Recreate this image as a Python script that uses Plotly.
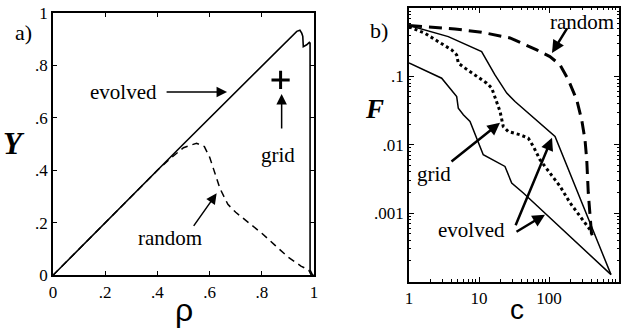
import plotly.graph_objects as go

# panel a) yield vs density
rho_evolved = [0, 0.5, 0.934, 0.946, 0.953, 0.957, 0.959, 0.972, 0.982, 0.985, 0.985, 0.995, 1.0]
y_evolved = [0, 0.5, 0.929, 0.933, 0.922, 0.91, 0.871, 0.878, 0.887, 0.884, 0.02, 0.0, 0.0]
rho_random = [0, 0.4, 0.45, 0.5, 0.55, 0.58, 0.6, 0.62, 0.64, 0.67, 0.7, 0.75, 0.8, 0.85, 0.9, 0.95, 0.98, 0.99]
y_random = [0, 0.4, 0.445, 0.486, 0.503, 0.49, 0.45, 0.39, 0.33, 0.27, 0.24, 0.2, 0.16, 0.115, 0.07, 0.035, 0.02, 0.0]
rho_grid = [0.872]
y_grid = [0.744]

# panel b) F vs c (log-log)
c_evolved_hi = [1, 3.64, 10.9, 16.9, 24.9, 32.7, 122, 769]
f_evolved_hi = [0.555, 0.381, 0.23, 0.105, 0.0569, 0.0429, 0.0132, 0.000126]
c_evolved_lo = [1, 2.93, 4.8, 5.06, 5.97, 7.44, 11.5, 23.5, 29.3, 43, 769]
f_evolved_lo = [0.157, 0.094, 0.0507, 0.0343, 0.0274, 0.0219, 0.00714, 0.00482, 0.00276, 0.00197, 0.000126]
c_grid = [1, 1.69, 2.62, 4.07, 4.8, 5.06, 6.31, 8.77, 12.9, 15.2, 17.9, 20, 22.2, 26.2, 38.5, 50.6,
          59.7, 74.3, 103, 144, 200, 277, 385, 430]
f_grid = [0.53, 0.427, 0.322, 0.244, 0.206, 0.156, 0.132, 0.105, 0.0796, 0.0673, 0.0429, 0.0306, 0.0185,
          0.0156, 0.014, 0.0125, 0.00945, 0.00604, 0.00386, 0.00246, 0.00141, 0.000898, 0.000574, 0.000435]
c_random = [1, 4.54, 10.9, 27.7, 66.7, 103, 144, 189, 249, 293, 327, 346, 364, 385, 411]
f_random = [0.555, 0.494, 0.442, 0.365, 0.244, 0.195, 0.147, 0.0889, 0.0454, 0.0232, 0.0118, 0.00604,
            0.00197, 0.000898, 0.00041]

lin_ticks = [0, 0.2, 0.4, 0.6, 0.8, 1]
lin_text = ['0', '.2', '.4', '.6', '.8', '1']
c_ticks = [1, 10, 100]
c_text = ['1', '10', '100']
f_ticks = [1, 0.1, 0.01, 0.001]
f_text = ['1', '.1', '.01', '.001']

SERIF = 'Times New Roman, Liberation Serif, DejaVu Serif, serif'
SANS = 'Arial, Liberation Sans, DejaVu Sans, sans-serif'

fig = go.Figure()
fig.add_trace(go.Scatter(x=rho_evolved, y=y_evolved, mode='lines',
                         line=dict(color='black', width=1.6), xaxis='x', yaxis='y'))
fig.add_trace(go.Scatter(x=rho_random, y=y_random, mode='lines',
                         line=dict(color='black', width=1.5, dash='7px,5px'), xaxis='x', yaxis='y'))
fig.add_trace(go.Scatter(x=rho_grid, y=y_grid, mode='markers',
                         marker=dict(symbol='cross-thin', size=13, line=dict(color='black', width=3)),
                         xaxis='x', yaxis='y'))

fig.add_trace(go.Scatter(x=c_evolved_hi, y=f_evolved_hi, mode='lines',
                         line=dict(color='black', width=1.5), xaxis='x2', yaxis='y2'))
fig.add_trace(go.Scatter(x=c_evolved_lo, y=f_evolved_lo, mode='lines',
                         line=dict(color='black', width=1.5), xaxis='x2', yaxis='y2'))
fig.add_trace(go.Scatter(x=c_grid, y=f_grid, mode='lines',
                         line=dict(color='black', width=3, dash='dot'), xaxis='x2', yaxis='y2'))
fig.add_trace(go.Scatter(x=c_random, y=f_random, mode='lines',
                         line=dict(color='black', width=3, dash='13px,7px'), xaxis='x2', yaxis='y2'))

axis_common = dict(showline=True, linecolor='black', linewidth=1.8, mirror='ticks', ticks='inside',
                   ticklen=4, tickcolor='black', showgrid=False, zeroline=False, automargin=False,
                   tickfont=dict(family=SERIF, size=17, color='black'))

minor_c = [m * 10 ** k for k in range(0, 3) for m in range(2, 10)]
minor_f = [m * 10.0 ** k for k in range(-4, 0) for m in range(2, 10)]

fig.update_layout(
    template='none',
    width=629, height=328, showlegend=False,
    margin=dict(l=0, r=0, t=0, b=0, pad=0, autoexpand=False),
    paper_bgcolor='white', plot_bgcolor='white',
    xaxis=dict(axis_common, domain=[53 / 629, 314 / 629], range=[0, 1],
               tickmode='array', tickvals=lin_ticks, ticktext=lin_text, anchor='y'),
    yaxis=dict(axis_common, domain=[1 - 275.3 / 328, 1 - 12.7 / 328], range=[0, 1],
               tickmode='array', tickvals=lin_ticks, ticktext=lin_text, anchor='x'),
    xaxis2=dict(axis_common, type='log', domain=[409 / 629, 619 / 629], range=[0, 3],
                tickmode='array', tickvals=c_ticks, ticktext=c_text, anchor='y2', ticklen=5,
                minor=dict(ticks='inside', ticklen=2.5, tickcolor='black', tickmode='array', tickvals=minor_c)),
    yaxis2=dict(axis_common, type='log', domain=[1 - 281.5 / 328, 1 - 8 / 328], range=[-4, 0],
                tickmode='array', tickvals=f_ticks, ticktext=f_text, anchor='x2', ticklen=5,
                minor=dict(ticks='inside', ticklen=2.5, tickcolor='black', tickmode='array', tickvals=minor_f)),
)

txt = dict(family=SERIF, size=21, color='black')
mid = dict(xanchor='center', yanchor='middle', showarrow=False)
ann = []
# panel a labels
ann.append(dict(mid, x=0.272, y=0.698, xref='x', yref='y', text='evolved', font=txt))
ann.append(dict(mid, x=0.862, y=0.458, xref='x', yref='y', text='grid', font=txt))
ann.append(dict(mid, x=0.448, y=0.142, xref='x', yref='y', text='random', font=txt))
arrow_a = dict(text='', showarrow=True, arrowhead=2, arrowsize=1.4, arrowwidth=1.5, arrowcolor='black',
               xref='x', yref='y')
ann.append(dict(arrow_a, x=0.667, y=0.698, ax=-62, ay=0))
ann.append(dict(arrow_a, x=0.876, y=0.69, ax=0, ay=36))
ann.append(dict(arrow_a, x=0.627, y=0.312, ax=-24, ay=34))
# panel b labels (log axes -> log10 positions)
ann.append(dict(mid, x=2.471, y=-0.204, xref='x2', yref='y2', text='random', font=txt))
ann.append(dict(mid, x=0.357, y=-2.423, xref='x2', yref='y2', text='grid', font=txt))
ann.append(dict(mid, x=0.886, y=-3.241, xref='x2', yref='y2', text='evolved', font=txt))
arrow_b = dict(text='', showarrow=True, arrowhead=2, arrowsize=1.0, arrowwidth=2.5, arrowcolor='black',
               xref='x2', yref='y2')
ann.append(dict(arrow_b, x=2.043, y=-0.657, ax=16, ay=-26))
ann.append(dict(arrow_b, x=1.3, y=-1.679, ax=-50, ay=40))
ann.append(dict(arrow_b, x=2.043, y=-1.898, ax=-37, ay=89))
ann.append(dict(arrow_b, x=1.943, y=-3.022, ax=-30, ay=18))
# panel tags and axis titles
ann.append(dict(mid, x=23 / 629, y=1 - 33 / 328, xref='paper', yref='paper', text='a)',
                font=dict(family=SERIF, size=22, color='black')))
ann.append(dict(mid, x=379 / 629, y=1 - 31 / 328, xref='paper', yref='paper', text='b)',
                font=dict(family=SERIF, size=22, color='black')))
ann.append(dict(mid, x=14 / 629, y=1 - 144 / 328, xref='paper', yref='paper', text='<b><i>Y</i></b>',
                font=dict(family=SERIF, size=31, color='black')))
ann.append(dict(mid, x=374 / 629, y=1 - 109 / 328, xref='paper', yref='paper', text='<b><i>F</i></b>',
                font=dict(family=SERIF, size=27, color='black')))
ann.append(dict(mid, x=184 / 629, y=1 - 310 / 328, xref='paper', yref='paper', text='ρ',
                font=dict(family=SANS, size=32, color='black')))
ann.append(dict(mid, x=517 / 629, y=1 - 309 / 328, xref='paper', yref='paper', text='c',
                font=dict(family=SANS, size=28, color='black')))
fig.update_layout(annotations=ann)

# drop the browser's default body margin so the figure sits at the window origin
fig.write_html("out.html", config={'displayModeBar': False},
               post_script="document.body.style.margin='0';")
